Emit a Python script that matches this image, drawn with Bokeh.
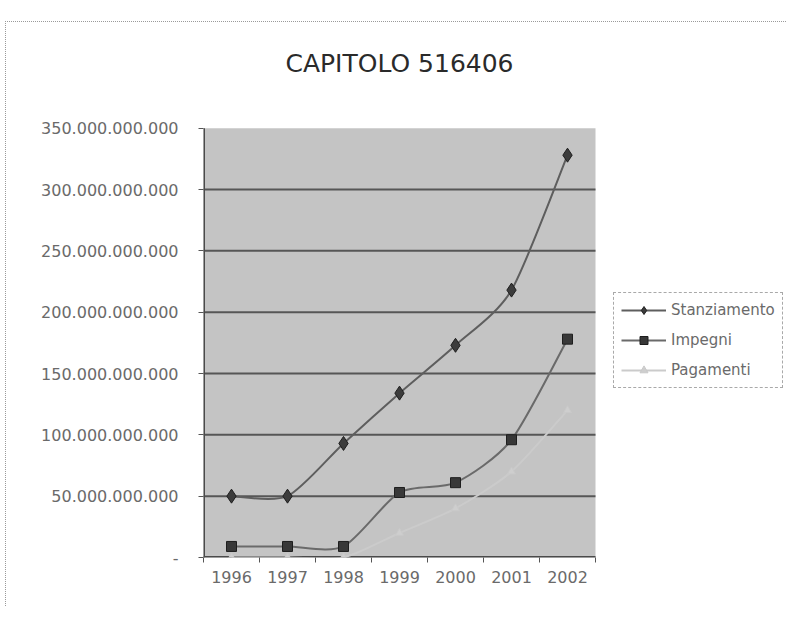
from bokeh.plotting import figure
from bokeh.models import FixedTicker, Legend, LegendItem, Label
from bokeh.embed import file_html
from bokeh.resources import INLINE
import numpy as np

# ---- data ----
years = ["1996", "1997", "1998", "1999", "2000", "2001", "2002"]
stanziamento = [50e9, 50e9, 93e9, 134e9, 173e9, 218e9, 328e9]
impegni = [9e9, 9e9, 9e9, 53e9, 61e9, 96e9, 178e9]
pagamenti = [0, 0, 0, 20e9, 40e9, 70e9, 120e9]
y_ticks = [0, 50e9, 100e9, 150e9, 200e9, 250e9, 300e9, 350e9]
y_tick_labels = ["-", "50.000.000.000", "100.000.000.000", "150.000.000.000",
                 "200.000.000.000", "250.000.000.000", "300.000.000.000",
                 "350.000.000.000"]
title_text = "CAPITOLO 516406"
series_names = ["Stanziamento", "Impegni", "Pagamenti"]

FONT = "DejaVu Sans"
n = len(years)
xs = np.arange(n, dtype=float)
x_lo, x_hi = -0.5, n - 0.5
y_top = y_ticks[-1]

# ---- layout (pixels on the canvas) ----
W, H = 781, 585
B_LEFT, B_RIGHT, B_TOP, B_BOTTOM = 197, 4, 4, 50
AREA_W, AREA_H = 392, 429.3          # grey plot area size in px
frame_w = W - B_LEFT - B_RIGHT
frame_h = H - B_TOP - B_BOTTOM
x_end = x_lo + (x_hi - x_lo) * frame_w / AREA_W
y_end = y_top * frame_h / AREA_H

p = figure(width=W, height=H, output_backend="svg", toolbar_location=None,
           x_range=(x_lo, x_end), y_range=(0, y_end),
           min_border_left=B_LEFT, min_border_right=B_RIGHT,
           min_border_top=B_TOP, min_border_bottom=B_BOTTOM,
           background_fill_color="white", border_fill_color="white",
           outline_line_color=None)
p.styles = {"margin-top": "21px", "margin-left": "5px",
            "border-top": "1px dotted #9a9a9a",
            "border-left": "1px dotted #9a9a9a"}

# grey plot area, grid lines and axis lines
p.quad(left=x_lo, right=x_hi, bottom=0, top=y_top, fill_color="#c4c4c4", line_color=None)
p.segment(x0=x_lo, x1=x_hi, y0=y_ticks[1:-1], y1=y_ticks[1:-1],
          line_color="#4a4a4a", line_width=2, line_alpha=0.9)
p.segment(x0=x_lo, x1=x_hi, y0=0, y1=0, line_color="#4a4a4a", line_width=3)
p.segment(x0=x_lo, x1=x_lo, y0=0, y1=y_top, line_color="#4a4a4a", line_width=3)

# title
title_y = y_top * (frame_h - 37) / AREA_H
p.add_layout(Label(x=(x_lo + x_hi) / 2, y=title_y, text=title_text,
                   text_align="center", text_baseline="middle",
                   text_font=FONT, text_font_size="25px", text_color="#2a2a2a"))

# axes
p.xaxis.ticker = FixedTicker(ticks=list(xs), minor_ticks=list(np.arange(n + 1) - 0.5))
p.xaxis.major_label_overrides = {int(i): y for i, y in zip(xs, years)}
p.xaxis.major_tick_line_color = None
p.xaxis.major_tick_out = 0
p.xaxis.minor_tick_out = 5
p.xaxis.minor_tick_in = 0
p.xaxis.minor_tick_line_color = "#555555"
p.xaxis.major_label_standoff = 8
p.xaxis.axis_line_color = None

p.yaxis.ticker = FixedTicker(ticks=y_ticks)
p.yaxis.major_label_overrides = {int(v): l for v, l in zip(y_ticks, y_tick_labels)}
p.yaxis.major_tick_out = 5
p.yaxis.major_tick_in = 0
p.yaxis.minor_tick_line_color = None
p.yaxis.major_label_standoff = 20
p.yaxis.axis_line_color = None
p.yaxis.major_tick_line_color = "#555555"

for ax in (p.xaxis, p.yaxis):
    ax.major_label_text_font = FONT
    ax.major_label_text_font_size = "16px"
    ax.major_label_text_color = "#6a6a6a"

p.xgrid.grid_line_color = None
p.ygrid.grid_line_color = None


def smooth_segments(xv, yv, k=8.0):
    """Catmull-Rom style bezier control points for a smoothed line."""
    xv = np.asarray(xv, dtype=float)
    yv = np.asarray(yv, dtype=float)
    m = len(xv)
    xp = np.concatenate([[xv[0]], xv, [xv[-1]]])
    yp = np.concatenate([[yv[0]], yv, [yv[-1]]])
    x0, y0 = xv[:-1], yv[:-1]
    x1, y1 = xv[1:], yv[1:]
    cx0 = x0 + (xp[2:m + 1] - xp[0:m - 1]) / k
    cy0 = y0 + (yp[2:m + 1] - yp[0:m - 1]) / k
    cx1 = x1 - (xp[3:m + 2] - xp[1:m]) / k
    cy1 = y1 - (yp[3:m + 2] - yp[1:m]) / k
    return dict(x0=x0, y0=y0, x1=x1, y1=y1, cx0=cx0, cy0=cy0, cx1=cx1, cy1=cy1)


styles = [
    dict(line="#5e5e5e", marker="diamond", size=14, fill="#3c3c3c", mline="#1e1e1e"),
    dict(line="#6a6a6a", marker="square", size=10, fill="#383838", mline="#1e1e1e"),
    dict(line="#cbcbcb", marker="triangle", size=8, fill="#cecece", mline="#c9c9c9"),
]
items = []
for name, vals, st in zip(series_names, [stanziamento, impegni, pagamenti], styles):
    seg = smooth_segments(xs, vals)
    br = p.bezier(**seg, line_color=st["line"], line_width=2)
    sr = p.scatter(xs, vals, marker=st["marker"], size=st["size"],
                   fill_color=st["fill"], line_color=st["mline"], line_width=1)
    items.append(LegendItem(label=name, renderers=[br, sr]))

legend = Legend(items=items, location=(410, 169), orientation="vertical",
                label_text_font=FONT, label_text_font_size="15px",
                label_text_color="#6a6a6a", glyph_width=45, glyph_height=20,
                label_height=20, spacing=10, padding=7, margin=0,
                label_standoff=5,
                border_line_color="#555555", border_line_width=1.5,
                border_line_dash="dotted",
                background_fill_color="white", background_fill_alpha=1)
p.add_layout(legend)

open("out.html", "w").write(file_html(p, INLINE))
